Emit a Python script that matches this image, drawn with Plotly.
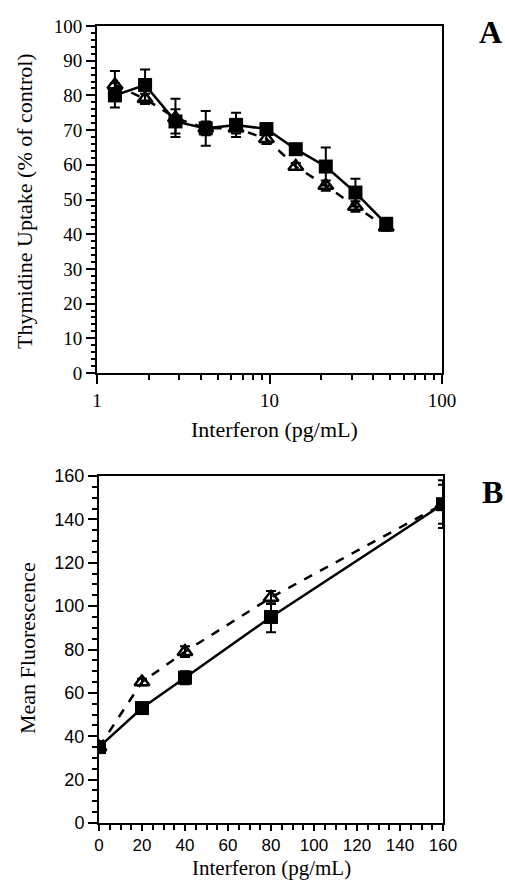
import plotly.graph_objects as go

# ---- Panel A data ----
a_x = [1.27, 1.9, 2.85, 4.27, 6.4, 9.6, 14.2, 21.2, 31.5, 47.5]
a_sq = [80, 83, 72.5, 70.5, 71.5, 70.3, 64.5, 59.5, 52, 43]
a_sq_err = [3.5, 4.5, 3.5, 5, 3.5, 1.5, 1, 5.5, 4, 1.5]
a_tri = [83, 79, 73.5, 70.5, 70.5, 67.5, 59.5, 54, 48, 42]
a_tri_err = [4, 1.5, 5.5, 2, 1.5, 1.5, 1, 1.5, 1.5, 1]

# ---- Panel B data ----
b_x = [0, 20, 40, 80, 160]
b_sq = [35, 53, 67, 95, 147]
b_sq_err = [1.5, 1.5, 3, 7, 11]
b_tri = [35, 65, 79, 104, 147]
b_tri_err = [1, 1.5, 2.5, 3, 9]

a_xticks = [1, 10, 100]
a_xminor = [2, 3, 4, 5, 6, 7, 8, 9, 20, 30, 40, 50, 60, 70, 80, 90]

W, H = 505, 882
SERIF = "Liberation Serif"
SANS = "Liberation Sans"

def py(p):
    return 1 - p / H

def px(p):
    return p / W

fig = go.Figure()

def add_pair(xs, tri, tri_err, sq, sq_err, xa, ya):
    fig.add_trace(go.Scatter(
        x=xs, y=tri, xaxis=xa, yaxis=ya, mode="lines+markers",
        line=dict(color="black", width=2.5, dash="dash"),
        marker=dict(symbol="triangle-up-open", size=13, color="black",
                    line=dict(width=2.5, color="black")),
        error_y=dict(type="data", array=tri_err, visible=True,
                     color="black", thickness=2, width=5),
        showlegend=False))
    fig.add_trace(go.Scatter(
        x=xs, y=sq, xaxis=xa, yaxis=ya, mode="lines+markers",
        line=dict(color="black", width=2.5),
        marker=dict(symbol="square", size=14, color="black"),
        error_y=dict(type="data", array=sq_err, visible=True,
                     color="black", thickness=2, width=5),
        showlegend=False))

add_pair(a_x, a_tri, a_tri_err, a_sq, a_sq_err, "x", "y")
add_pair(b_x, b_tri, b_tri_err, b_sq, b_sq_err, "x2", "y2")

axis_common = dict(showgrid=False, zeroline=False, showline=True,
                   linecolor="black", linewidth=2, mirror=True,
                   ticks="outside", tickcolor="black", tickwidth=2,
                   automargin=False)

fig.update_layout(
    template="none",
    width=W, height=H, margin=dict(l=0, r=0, t=0, b=0, pad=0),
    autosize=False,
    paper_bgcolor="white", plot_bgcolor="white",
    xaxis=dict(**axis_common, type="log", range=[0, 2],
               domain=[px(97), px(442)], anchor="y",
               tickvals=a_xticks, ticktext=[str(v) for v in a_xticks],
               ticklen=9,
               minor=dict(tickvals=a_xminor, ticks="outside", ticklen=5,
                          tickcolor="black", tickwidth=2),
               tickfont=dict(family=SERIF, size=19, color="black")),
    yaxis=dict(**axis_common, range=[0, 100],
               domain=[py(373), py(26)], anchor="x",
               dtick=10, ticklen=9,
               minor=dict(dtick=2, ticks="outside", ticklen=4,
                          tickcolor="black", tickwidth=1.5),
               tickfont=dict(family=SERIF, size=19, color="black")),
    xaxis2=dict(**axis_common, range=[0, 160],
                domain=[px(99), px(443)], anchor="y2",
                dtick=20, ticklen=6,
                minor=dict(dtick=5, ticks="outside", ticklen=5,
                           tickcolor="black", tickwidth=2),
                tickfont=dict(family=SANS, size=17, color="black")),
    yaxis2=dict(**axis_common, range=[0, 160],
                domain=[py(823), py(476)], anchor="x2",
                dtick=20, ticklen=9,
                minor=dict(dtick=5, ticks="outside", ticklen=5,
                           tickcolor="black", tickwidth=2),
                tickfont=dict(family=SANS, size=18, color="black")),
)

def ann(text, x, y, size, bold=False, angle=0, yanchor="middle"):
    fig.add_annotation(
        text=f"<b>{text}</b>" if bold else text,
        x=px(x), y=py(y), xref="paper", yref="paper",
        showarrow=False, textangle=angle,
        xanchor="center", yanchor=yanchor,
        font=dict(family=SERIF, size=size, color="black"))

ann("Thymidine Uptake (% of control)", 24, 201, 22, angle=-90)
ann("Interferon (pg/mL)", 274, 430, 22)
ann("A", 490, 32, 32, bold=True)
ann("Mean Fluorescence", 27, 648, 22, angle=-90)
ann("Interferon (pg/mL)", 271, 882, 21, yanchor="bottom")
ann("B", 492, 492, 32, bold=True)

fig.write_html("out.html")
